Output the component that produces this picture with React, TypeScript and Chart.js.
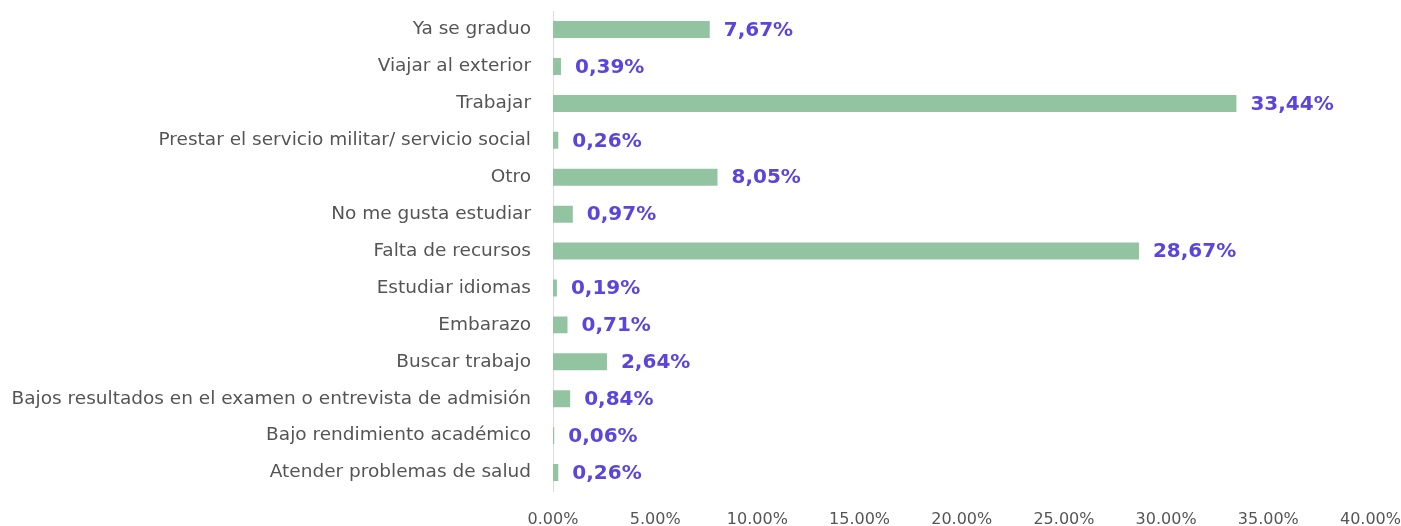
import React, { useEffect, useRef } from "react";
import { Chart, registerables } from "chart.js";

Chart.register(...registerables);

const categories = [
  "Ya se graduo",
  "Viajar al exterior",
  "Trabajar",
  "Prestar el servicio militar/ servicio social",
  "Otro",
  "No me gusta estudiar",
  "Falta de recursos",
  "Estudiar idiomas",
  "Embarazo",
  "Buscar trabajo",
  "Bajos resultados en el examen o entrevista de admisión",
  "Bajo rendimiento académico",
  "Atender problemas de salud",
];

const values = [7.67, 0.39, 33.44, 0.26, 8.05, 0.97, 28.67, 0.19, 0.71, 2.64, 0.84, 0.06, 0.26];

const xTicks = [0, 5, 10, 15, 20, 25, 30, 35, 40];

const BAR_COLOR = "#93c4a2";
const LABEL_COLOR = "#5b45dc";
const TEXT_COLOR = "#555555";

const dataLabelPlugin = {
  id: "dataLabels",
  afterDatasetsDraw(chart: any) {
    const ctx = chart.ctx;
    const meta = chart.getDatasetMeta(0);
    ctx.save();
    ctx.fillStyle = LABEL_COLOR;
    ctx.font = "bold 20px 'DejaVu Sans'";
    ctx.textAlign = "left";
    ctx.textBaseline = "middle";
    meta.data.forEach((bar: any, i: number) => {
      const txt = values[i].toFixed(2).replace(".", ",") + "%";
      ctx.fillText(txt, bar.x + 14, bar.y + 1);
    });
    ctx.restore();
  },
};

export default function App() {
  const ref = useRef<HTMLCanvasElement | null>(null);
  useEffect(() => {
    if (!ref.current) return;
    const chart = new Chart(ref.current, {
      type: "bar",
      data: {
        labels: categories,
        datasets: [
          {
            data: values,
            backgroundColor: BAR_COLOR,
            borderWidth: 0,
            barPercentage: 0.46,
            categoryPercentage: 1,
          },
        ],
      },
      options: {
        indexAxis: "y",
        animation: false,
        responsive: true,
        maintainAspectRatio: false,
        layout: { padding: { top: 10, right: 17, left: 0, bottom: 0 } },
        plugins: {
          legend: { display: false },
          tooltip: { enabled: false },
        },
        scales: {
          x: {
            min: 0,
            max: 40,
            afterBuildTicks: (scale: any) => {
              scale.ticks = xTicks.map((v) => ({ value: v }));
            },
            ticks: {
              color: TEXT_COLOR,
              font: { family: "'DejaVu Sans'", size: 16 },
              padding: 11,
              maxRotation: 0,
              callback: (v: any) => Number(v).toFixed(2) + "%",
            },
            grid: { display: false },
            border: { display: false },
            afterFit: (scale: any) => {
              scale.height = 45;
            },
          },
          y: {
            ticks: {
              color: TEXT_COLOR,
              font: { family: "'DejaVu Sans'", size: 18.5 },
              padding: 22,
              autoSkip: false,
            },
            grid: { display: false, drawTicks: false },
            border: { display: true, color: "#dddddd", width: 1 },
            afterFit: (scale: any) => {
              scale.width = 553;
            },
          },
        },
      },
      plugins: [dataLabelPlugin],
    });
    return () => chart.destroy();
  }, []);
  return (
    <div style={{ position: "absolute", left: 0, top: -22, width: 1412, height: 558 }}>
      <canvas ref={ref} />
    </div>
  );
}
